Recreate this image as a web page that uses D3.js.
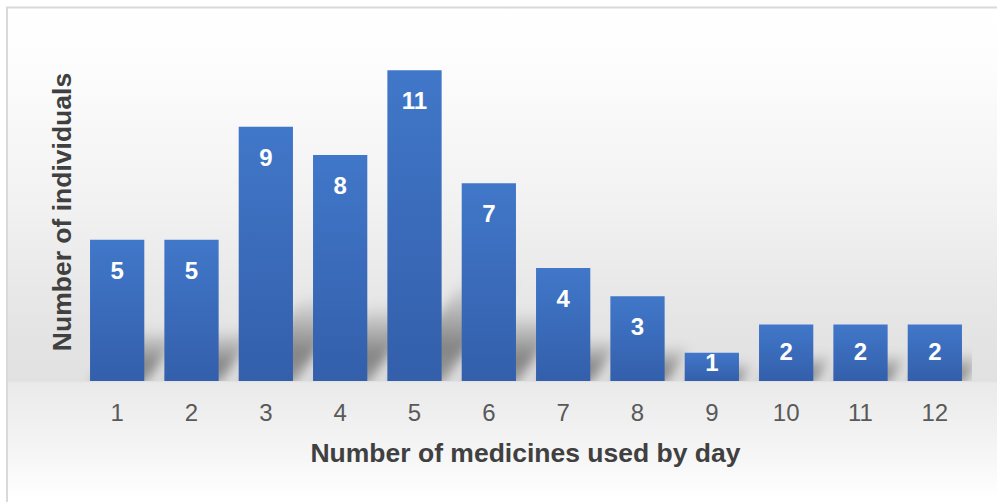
<!DOCTYPE html>
<html>
<head>
<meta charset="utf-8">
<script src="https://cdn.jsdelivr.net/npm/d3@7"></script>
<style>
  html, body { margin: 0; padding: 0; background: #fff; }
  svg { display: block; }
  text { font-family: "Liberation Sans", Arial, sans-serif; }
</style>
</head>
<body>
<svg id="chart" width="997" height="502"></svg>
<script>
// Medicines taken per day and how many individuals take each count
const categories = ["1", "2", "3", "4", "5", "6", "7", "8", "9", "10", "11", "12"];
const individuals = [5, 5, 9, 8, 11, 7, 4, 3, 1, 2, 2, 2];
const yTicks = [0, 2, 4, 6, 8, 10, 12];
const xTitle = "Number of medicines used by day";
const yTitle = "Number of individuals";

const W = 997, H = 502;
const plot = { left: 80, right: 972, top: 42, bottom: 381 };

const svg = d3.select("#chart");
const defs = svg.append("defs");

// chart-area background: white at top, grey toward the floor, white again at the bottom
const bg = defs.append("linearGradient")
  .attr("id", "bgGrad").attr("gradientUnits", "userSpaceOnUse")
  .attr("x1", 0).attr("y1", 7).attr("x2", 0).attr("y2", H);
[[7, "#ffffff"], [60, "#fdfdfd"], [200, "#f2f2f2"], [320, "#e5e5e5"], [381, "#e1e1e1"],
 [383, "#eaeaea"], [440, "#f3f3f3"], [500, "#ffffff"]].forEach(([y, c]) => {
  bg.append("stop").attr("offset", (y - 7) / (H - 7)).attr("stop-color", c);
});

// bar fill, lighter at the top
const barGrad = defs.append("linearGradient")
  .attr("id", "barGrad").attr("x1", 0).attr("y1", 0).attr("x2", 0).attr("y2", 1);
barGrad.append("stop").attr("offset", 0).attr("stop-color", "#4177c9");
barGrad.append("stop").attr("offset", 1).attr("stop-color", "#335fab");

// perspective shadow, densest a little above the floor and fading away from it
const shGrad = defs.append("linearGradient")
  .attr("id", "shGrad").attr("x1", 0).attr("y1", 1).attr("x2", 0).attr("y2", 0);
shGrad.append("stop").attr("offset", 0).attr("stop-color", "#000").attr("stop-opacity", 0.3);
shGrad.append("stop").attr("offset", 0.35).attr("stop-color", "#000").attr("stop-opacity", 0.42);
shGrad.append("stop").attr("offset", 0.7).attr("stop-color", "#000").attr("stop-opacity", 0.2);
shGrad.append("stop").attr("offset", 1).attr("stop-color", "#000").attr("stop-opacity", 0);

defs.append("filter").attr("id", "shBlur")
  .attr("x", "-50%").attr("y", "-50%").attr("width", "200%").attr("height", "200%")
  .append("feGaussianBlur").attr("stdDeviation", 6);

defs.append("clipPath").attr("id", "plotClip")
  .append("rect")
  .attr("x", plot.left).attr("y", plot.top)
  .attr("width", plot.right - plot.left).attr("height", plot.bottom - plot.top);

svg.append("rect")
  .attr("x", 7).attr("y", 7.5).attr("width", W + 10).attr("height", H + 10)
  .attr("fill", "url(#bgGrad)")
  .attr("stroke", "#d9d9d9").attr("stroke-width", 2);

const x = d3.scaleBand()
  .domain(categories)
  .range([plot.left, plot.right])
  .paddingInner(0.27)
  .paddingOuter(0.135);

const y = d3.scaleLinear()
  .domain([d3.min(yTicks), d3.max(yTicks)])
  .range([plot.bottom, plot.top]);

const data = categories.map((c, i) => ({ cat: c, v: individuals[i] }));

// shadows cast up and to the right from each bar's foot
svg.append("g").attr("clip-path", "url(#plotClip)")
  .selectAll("polygon")
  .data(data)
  .join("polygon")
  .attr("fill", "url(#shGrad)")
  .attr("filter", "url(#shBlur)")
  .attr("points", d => {
    const x0 = x(d.cat), x1 = x0 + x.bandwidth();
    const base = y(0);
    const hs = 10 + 0.3 * (y(0) - y(d.v));
    const dx = 0.75 * hs;
    return [[x0, base + 4], [x1, base + 4], [x1 + dx, base - hs], [x0 + dx, base - hs]]
      .map(p => p.join(",")).join(" ");
  });

// bars
svg.append("g")
  .selectAll("rect")
  .data(data)
  .join("rect")
  .attr("x", d => x(d.cat))
  .attr("y", d => y(d.v))
  .attr("width", x.bandwidth())
  .attr("height", d => y(0) - y(d.v))
  .attr("fill", "url(#barGrad)");

// value labels inside the bar ends
svg.append("g")
  .selectAll("text")
  .data(data)
  .join("text")
  .attr("x", d => x(d.cat) + x.bandwidth() / 2)
  .attr("y", d => {
    const top = y(d.v), base = y(0);
    return Math.min(top + 39, (top + base) / 2 + 7, base - 10);
  })
  .attr("text-anchor", "middle")
  .attr("font-size", 24)
  .attr("font-weight", "bold")
  .attr("fill", "#ffffff")
  .text(d => d.v);

// category axis
const xAxis = svg.append("g")
  .attr("transform", `translate(0,${plot.bottom})`)
  .call(d3.axisBottom(x).tickSize(0).tickPadding(0));
xAxis.select(".domain").remove();
xAxis.selectAll("text")
  .attr("dy", null)
  .attr("y", 40)
  .attr("font-size", 24)
  .attr("font-family", "\"Liberation Sans\", Arial, sans-serif")
  .attr("fill", "#595959");

// axis titles
svg.append("text")
  .attr("x", 525.5).attr("y", 462)
  .attr("text-anchor", "middle")
  .attr("font-size", 26.5).attr("font-weight", "bold")
  .attr("fill", "#404040")
  .text(xTitle);

svg.append("text")
  .attr("transform", "translate(71,212) rotate(-90)")
  .attr("text-anchor", "middle")
  .attr("font-size", 26.5).attr("font-weight", "bold")
  .attr("fill", "#404040")
  .text(yTitle);
</script>
</body>
</html>
